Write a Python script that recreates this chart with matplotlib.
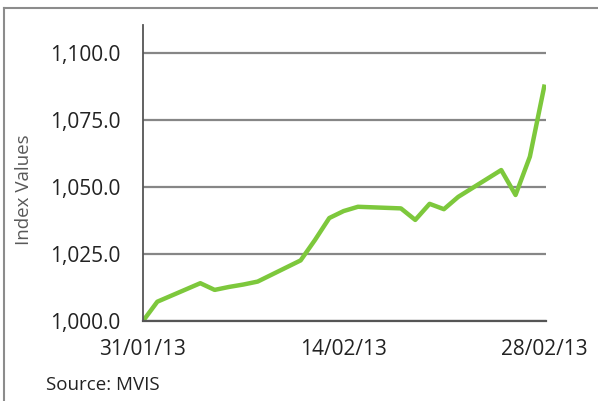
import pandas as pd
import matplotlib
matplotlib.use("Agg")
import matplotlib.pyplot as plt
import matplotlib.dates as mdates
from matplotlib.lines import Line2D
from matplotlib.ticker import FuncFormatter

# index values per trading day
dates = ["2013-01-31", "2013-02-01", "2013-02-04", "2013-02-05", "2013-02-06",
         "2013-02-07", "2013-02-08", "2013-02-11", "2013-02-12", "2013-02-13",
         "2013-02-14", "2013-02-15", "2013-02-18", "2013-02-19", "2013-02-20",
         "2013-02-21", "2013-02-22", "2013-02-25", "2013-02-26", "2013-02-27",
         "2013-02-28"]
values = [1000.0, 1007.2, 1014.1, 1011.6, 1012.7,
          1013.6, 1014.7, 1022.6, 1030.2, 1038.4,
          1041.0, 1042.6, 1042.0, 1037.7, 1043.7,
          1041.7, 1046.3, 1056.3, 1047.0, 1061.3,
          1087.4]
y_ticks = [1000, 1025, 1050, 1075, 1100]
x_ticks = ["2013-01-31", "2013-02-14", "2013-02-28"]

df = pd.DataFrame({"Date": pd.to_datetime(dates), "Index": values})

plt.rcParams["font.family"] = ["Open Sans", "DejaVu Sans"]

fig = plt.figure(figsize=(5.98, 4.01), dpi=100)
ax = fig.add_axes([143 / 598, 80 / 401, 403 / 598, 296 / 401])

ax.plot(df["Date"], df["Index"], color="#7dc83c", linewidth=3.2, solid_joinstyle="round")

ax.set_yticks(y_ticks)
ax.set_ylim(1000, 1110.4)
ax.yaxis.set_major_formatter(FuncFormatter(lambda v, p: "{:,.1f}".format(v)))
ax.grid(axis="y", color="#868686", linewidth=1.6)
ax.set_axisbelow(True)

ax.set_xticks(pd.to_datetime(x_ticks))
ax.xaxis.set_major_formatter(mdates.DateFormatter("%d/%m/%y"))
ax.set_xlim(pd.Timestamp("2013-01-31"), pd.Timestamp("2013-02-28") + pd.Timedelta(hours=3))

for s in ["top", "right"]:
    ax.spines[s].set_visible(False)
ax.spines["left"].set_color("#555555")
ax.spines["left"].set_linewidth(1.3)
ax.spines["bottom"].set_color("#555555")
ax.spines["bottom"].set_linewidth(1.6)

ax.tick_params(axis="both", length=0, labelsize=15, labelcolor="#222222")
ax.tick_params(axis="y", pad=16.5)
ax.tick_params(axis="x", pad=13)

ax.set_ylabel("Index Values", fontsize=13.5, color="#595959")
ax.yaxis.set_label_coords(-0.272, 0.443)

fig.text(46 / 598, 1 - 385 / 401, "Source: MVIS", fontsize=13.5, color="#222222", va="center")

# grey frame round the chart
fig.add_artist(Line2D([0.0075, 1], [0.980, 0.980], color="#8c8c8c", linewidth=1.5))
fig.add_artist(Line2D([0.0075, 0.0075], [0, 0.980], color="#8c8c8c", linewidth=1.5))

fig.savefig("out.png", dpi=100)
